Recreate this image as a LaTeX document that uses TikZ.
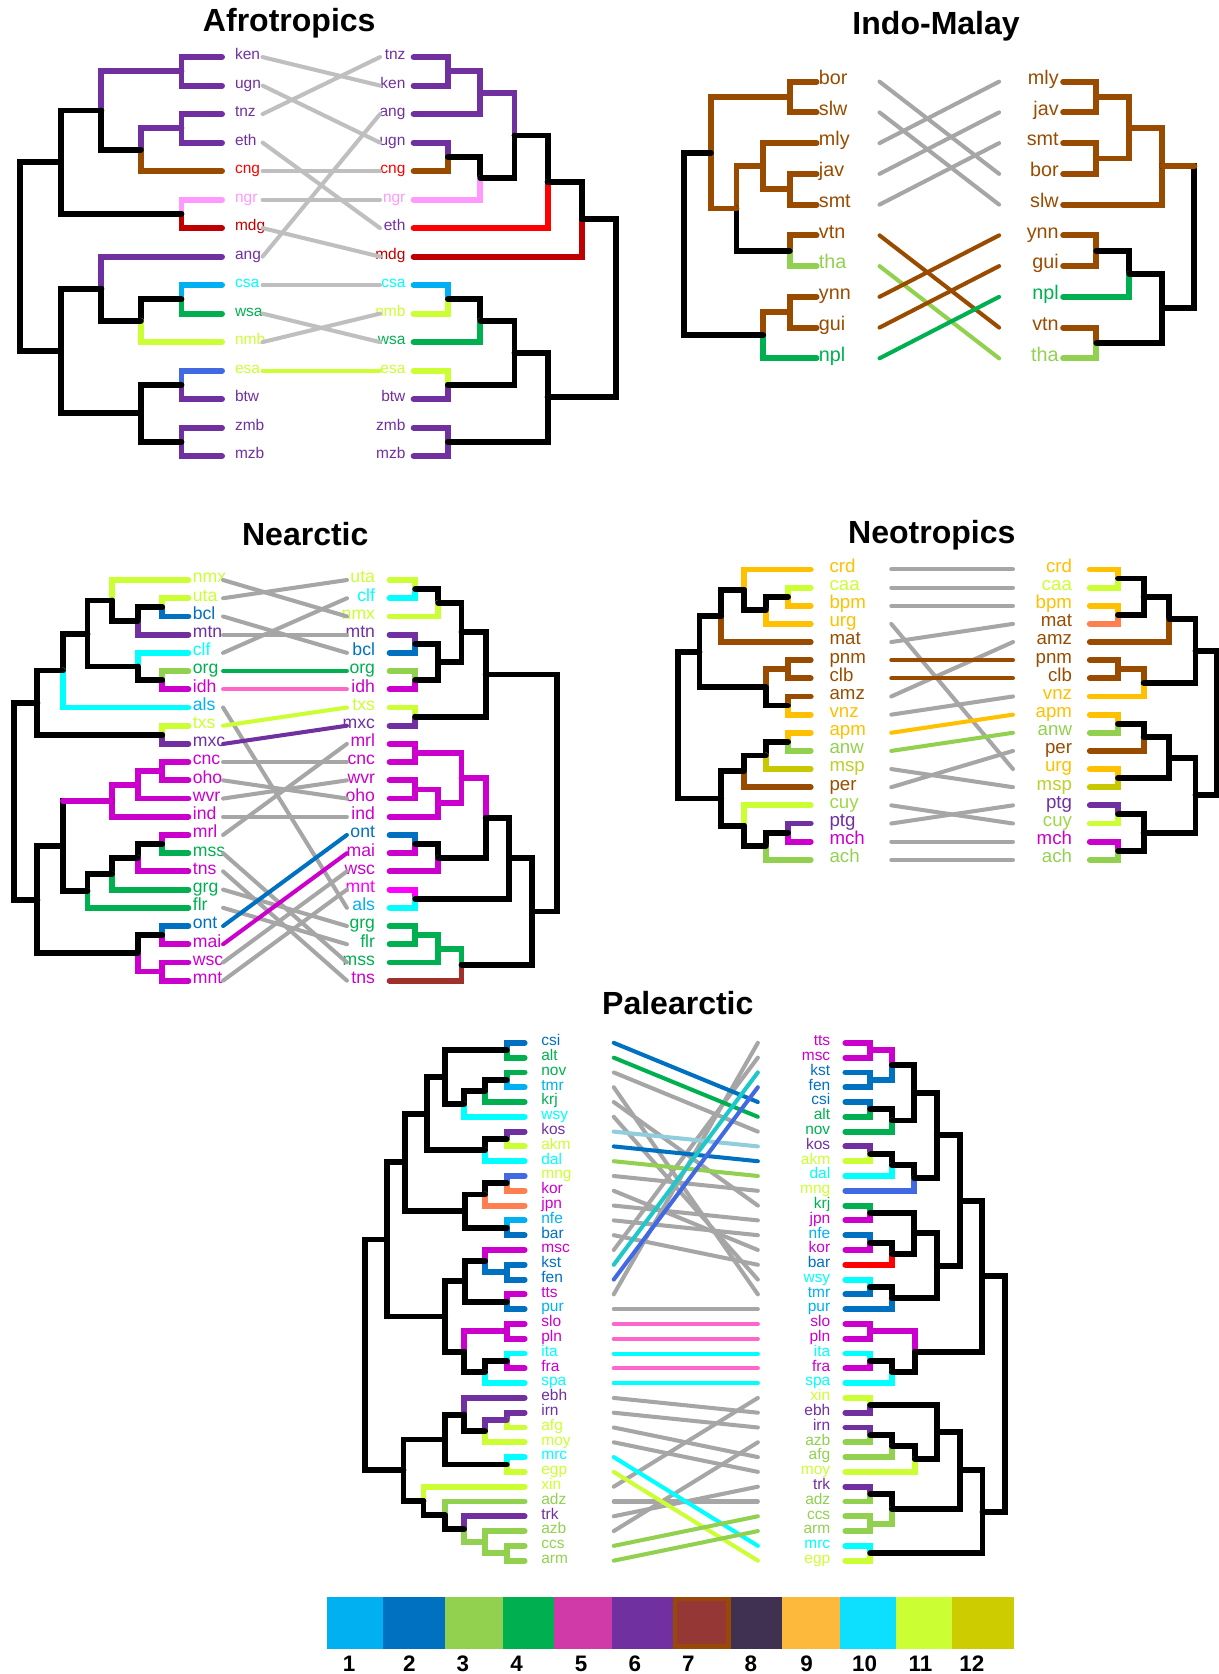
\documentclass[tikz,border=0pt]{standalone}
\usepackage{fontspec}
\setmainfont{Liberation Sans}

\definecolor{Cpurple}{HTML}{7030A0}
\definecolor{Cblue}{HTML}{0070C0}
\definecolor{Clblue}{HTML}{00B0F0}
\definecolor{Cgreen}{HTML}{00B050}
\definecolor{Clgreen}{HTML}{92D050}
\definecolor{Cyg}{HTML}{CCFF33}
\definecolor{Ccyan}{HTML}{00FFFF}
\definecolor{Cmag}{HTML}{CC00CC}
\definecolor{Cbmag}{HTML}{FF00FF}
\definecolor{Cbrown}{HTML}{994C00}
\definecolor{Cpink}{HTML}{FF99FF}
\definecolor{Cred}{HTML}{FF0000}
\definecolor{Cdred}{HTML}{C00000}
\definecolor{Croyal}{HTML}{4169E1}
\definecolor{Ccoral}{HTML}{FF7F50}
\definecolor{Corange}{HTML}{FFC000}
\definecolor{Colive}{HTML}{C8C800}
\definecolor{Cdkred}{HTML}{A0302A}
\definecolor{Cgray}{HTML}{A6A6A6}
\definecolor{Clgray}{HTML}{BFBFBF}
\definecolor{Cpinkl}{HTML}{FF66CC}
\definecolor{Csteel}{HTML}{92CDDC}
\definecolor{Cteal}{HTML}{1FC8C8}
\definecolor{Cmsp}{HTML}{BCCF2A}
\definecolor{Ccuy}{HTML}{9ED54A}
\definecolor{Cb1}{HTML}{00B0F0}
\definecolor{Cb2}{HTML}{0070C0}
\definecolor{Cb3}{HTML}{92D050}
\definecolor{Cb4}{HTML}{00B050}
\definecolor{Cb5}{HTML}{D03AA8}
\definecolor{Cb6}{HTML}{7030A0}
\definecolor{Cb7}{HTML}{953735}
\definecolor{Cb7b}{HTML}{984807}
\definecolor{Cb8}{HTML}{403152}
\definecolor{Cb9}{HTML}{FDB93B}
\definecolor{Cb10}{HTML}{0DDFFF}
\definecolor{Cb11}{HTML}{CCFF33}
\definecolor{Cb12}{HTML}{CCCC00}

\tikzset{
  branch/.style={line width=5.5pt, line cap=round},
  tangle/.style={line width=3.8pt, line cap=round},
  leaf/.style={inner sep=0pt, font=\fontsize{#1}{#1}\selectfont},
  title/.style={inner sep=0pt, font=\fontsize{30}{30}\selectfont\bfseries},
  num/.style={inner sep=0pt, font=\fontsize{21}{21}\selectfont\bfseries}
}

\begin{document}
\begin{tikzpicture}[x=1pt, y=-1pt]
\useasboundingbox (0,0) rectangle (1141.5,1568.3);

% titles
\node[title] (t-afro) at (271,22) {Afrotropics};
\node[title] (t-indo) at (877,25) {Indo-Malay};
\node[title] (t-nea) at (286,500) {Nearctic};
\node[title] (t-neo) at (873,501) {Neotropics};
\node[title] (t-pal) at (635,940) {Palearctic};

% ---------------- Afrotropics
\begin{scope}[yshift=-53.5pt, y=-26.7pt]
\foreach \n/\c [count=\i from 0] in {ken/Cpurple, ugn/Cpurple, tnz/Cpurple, eth/Cpurple, cng/Cred, ngr/Cpink, mdg/Cdred, ang/Cpurple, csa/Ccyan, wsa/Cgreen, nmb/Cyg, esa/Cyg, btw/Cpurple, zmb/Cpurple, mzb/Cpurple} {
  \coordinate (AL-\n) at (208,\i);
  \coordinate (AL-\n-e) at (246,\i);
  \node[leaf=14.5, text=\c, anchor=mid west] (AL-\n-t) at (220,\i) {\n};
}
\foreach \n/\c [count=\i from 0] in {tnz/Cpurple, ken/Cpurple, ang/Cpurple, ugn/Cpurple, cng/Cred, ngr/Cpink, eth/Cpurple, mdg/Cdred, csa/Ccyan, nmb/Cyg, wsa/Cgreen, esa/Cyg, btw/Cpurple, zmb/Cpurple, mzb/Cpurple} {
  \coordinate (AR-\n) at (387.5,\i);
  \coordinate (AR-\n-e) at (356,\i);
  \node[leaf=14.5, text=\c, anchor=mid east] (AR-\n-t) at (380,\i) {\n};
}
\foreach \n/\x/\y in {a1/170/0.5, a2/170/2.5, a3/132/3.25, a4/95/1.875, a5/170/5.5, a6/57/3.69, a7/170/8.5, a8/132/9.25, a9/95/8.125, a10/170/11.5, a11/170/13.5, a12/132/12.5, a13/57/10.31, a0/18.6/7.0,
  b1/419.6/0.5, b2/450/1.25, b3/419.6/3.5, b4/450/4.25, b5/482/2.75, b6/513/4.375, b7/545/5.69, b8/419.6/8.5, b9/450/9.25, b10/419.6/11.5, b11/482/10.375, b12/419.6/13.5, b13/513/11.94, b0/577/8.81}
  \coordinate (A\n) at (\x,\y);
\foreach \p/\ch/\c in {Aa1/AL-ken/Cpurple, Aa1/AL-ugn/Cpurple, Aa2/AL-tnz/Cpurple, Aa2/AL-eth/Cpurple, Aa3/Aa2/Cpurple, Aa3/AL-cng/Cbrown, Aa4/Aa1/Cpurple, Aa4/Aa3/black, Aa5/AL-ngr/Cpink, Aa5/AL-mdg/Cdred, Aa6/Aa4/black, Aa6/Aa5/black, Aa7/AL-csa/Clblue, Aa7/AL-wsa/Cgreen, Aa8/Aa7/black, Aa8/AL-nmb/Cyg, Aa9/AL-ang/Cpurple, Aa9/Aa8/black, Aa10/AL-esa/Croyal, Aa10/AL-btw/Cpurple, Aa11/AL-zmb/Cpurple, Aa11/AL-mzb/Cpurple, Aa12/Aa10/black, Aa12/Aa11/black, Aa13/Aa9/black, Aa13/Aa12/black, Aa0/Aa6/black, Aa0/Aa13/black,
  Ab1/AR-tnz/Cpurple, Ab1/AR-ken/Cpurple, Ab2/Ab1/Cpurple, Ab2/AR-ang/Cpurple, Ab3/AR-ugn/Cpurple, Ab3/AR-cng/Cbrown, Ab4/Ab3/black, Ab4/AR-ngr/Cpink, Ab5/Ab2/Cpurple, Ab5/Ab4/black, Ab6/Ab5/black, Ab6/AR-eth/Cred, Ab7/Ab6/black, Ab7/AR-mdg/Cdred, Ab8/AR-csa/Clblue, Ab8/AR-nmb/Cyg, Ab9/Ab8/black, Ab9/AR-wsa/Cgreen, Ab10/AR-esa/Cyg, Ab10/AR-btw/Cpurple, Ab11/Ab9/black, Ab11/Ab10/black, Ab12/AR-zmb/Cpurple, Ab12/AR-mzb/Cpurple, Ab13/Ab11/black, Ab13/Ab12/black, Ab0/Ab7/black, Ab0/Ab13/black}
  \draw[branch, color=\c] (\p) |- (\ch);
\foreach \n/\c in {ken/Clgray, ugn/Clgray, tnz/Clgray, eth/Clgray, cng/Clgray, ngr/Clgray, mdg/Clgray, ang/Clgray, csa/Clgray, wsa/Clgray, nmb/Clgray, esa/Cyg}
  \draw[tangle, color=\c] (AL-\n-e) -- (AR-\n-e);
\end{scope}

% ---------------- Indo-Malay
\begin{scope}[yshift=-76.5pt, y=-28.8pt]
\foreach \n/\c [count=\i from 0] in {bor/Cbrown, slw/Cbrown, mly/Cbrown, jav/Cbrown, smt/Cbrown, vtn/Cbrown, tha/Clgreen, ynn/Cbrown, gui/Cbrown, npl/Cgreen} {
  \coordinate (IL-\n) at (765,\i);
  \coordinate (IL-\n-e) at (824,\i);
  \node[leaf=18.5, text=\c, anchor=mid west] (IL-\n-t) at (767,\i) {\n};
}
\foreach \n/\c [count=\i from 0] in {mly/Cbrown, jav/Cbrown, smt/Cbrown, bor/Cbrown, slw/Cbrown, ynn/Cbrown, gui/Cbrown, npl/Cgreen, vtn/Cbrown, tha/Clgreen} {
  \coordinate (IR-\n) at (996,\i);
  \coordinate (IR-\n-e) at (936,\i);
  \node[leaf=18.5, text=\c, anchor=mid east] (IR-\n-t) at (992,\i) {\n};
}
\foreach \n/\x/\y in {c1/740/0.5, c2/740/3.5, c3/715/2.75, c4/740/5.5, c5/690/4.125, c6/666/2.31, c7/740/7.5, c8/715/8.25, c0/641/5.28,
  d1/1027/0.5, d2/1027/2.5, d3/1058/1.5, d4/1088.5/2.75, d5/1027/5.5, d6/1058/6.25, d7/1027/8.5, d8/1088.5/7.375, d0/1119/5.06}
  \coordinate (I\n) at (\x,\y);
\foreach \p/\ch/\c in {Ic1/IL-bor/Cbrown, Ic1/IL-slw/Cbrown, Ic2/IL-jav/Cbrown, Ic2/IL-smt/Cbrown, Ic3/IL-mly/Cbrown, Ic3/Ic2/Cbrown, Ic4/IL-vtn/Cbrown, Ic4/IL-tha/Clgreen, Ic5/Ic3/Cbrown, Ic5/Ic4/black, Ic6/Ic1/Cbrown, Ic6/Ic5/Cbrown, Ic7/IL-ynn/Cbrown, Ic7/IL-gui/Cbrown, Ic8/Ic7/Cbrown, Ic8/IL-npl/Cgreen, Ic0/Ic6/black, Ic0/Ic8/black,
  Id1/IR-mly/Cbrown, Id1/IR-jav/Cbrown, Id2/IR-smt/Cbrown, Id2/IR-bor/Cbrown, Id3/Id1/Cbrown, Id3/Id2/Cbrown, Id4/Id3/Cbrown, Id4/IR-slw/Cbrown, Id5/IR-ynn/Cbrown, Id5/IR-gui/Cbrown, Id6/Id5/black, Id6/IR-npl/Cgreen, Id7/IR-vtn/Cbrown, Id7/IR-tha/Clgreen, Id8/Id6/black, Id8/Id7/black, Id0/Id4/black, Id0/Id8/black}
  \draw[branch, color=\c] (\p) |- (\ch);
\draw[branch, Cbrown] (Id0 |- Id4) -- (Id4);
\foreach \n/\c in {bor/Cgray, slw/Cgray, mly/Cgray, jav/Cgray, smt/Cgray, vtn/Cbrown, tha/Clgreen, ynn/Cbrown, gui/Cbrown, npl/Cgreen}
  \draw[tangle, color=\c] (IL-\n-e) -- (IR-\n-e);
\end{scope}

% ---------------- Nearctic
\begin{scope}[yshift=-543.4pt, y=-17.06pt]
\foreach \n/\c [count=\i from 0] in {nmx/Cyg, uta/Cyg, bcl/Cblue, mtn/Cpurple, clf/Ccyan, org/Cgreen, idh/Cmag, als/Clblue, txs/Cyg, mxc/Cpurple, cnc/Cmag, oho/Cmag, wvr/Cmag, ind/Cmag, mrl/Cmag, mss/Cgreen, tns/Cmag, grg/Cgreen, flr/Cgreen, ont/Cblue, mai/Cmag, wsc/Cmag, mnt/Cmag} {
  \coordinate (NL-\n) at (176.5,\i);
  \coordinate (NL-\n-e) at (209,\i);
  \node[leaf=16.5, text=\c, anchor=mid west] (NL-\n-t) at (180.5,\i) {\n};
}
\foreach \n/\c [count=\i from 0] in {uta/Cyg, clf/Ccyan, nmx/Cyg, mtn/Cpurple, bcl/Cblue, org/Cgreen, idh/Cmag, txs/Cyg, mxc/Cpurple, mrl/Cmag, cnc/Cmag, wvr/Cmag, oho/Cmag, ind/Cmag, ont/Cblue, mai/Cmag, wsc/Cmag, mnt/Cbmag, als/Clblue, grg/Cgreen, flr/Cgreen, mss/Cgreen, tns/Cmag} {
  \coordinate (NR-\n) at (365,\i);
  \coordinate (NR-\n-e) at (325,\i);
  \node[leaf=16.5, text=\c, anchor=mid east] (NR-\n-t) at (351.5,\i) {\n};
}
\foreach \n/\x/\y in {a1/152/1.5, a2/129/2.25, a3/105/1.125, a4/152/5.5, a5/129/4.75, a6/82/2.94, a7/59/4.97, a8/152/8.5, a9/35/6.73, b1/152/10.5, b2/129/11.25, b3/105/12.125, b4/152/14.5, b5/129/15.25, b6/105/16.125, b7/82/17.06, b8/59/14.6, b9/152/19.5, b10/152/21.5, b11/129/20.5, b12/35/17.55, a0/13/12.14,
  r1/389/0.5, r2/410.5/1.25, r3/389/3.5, r4/389/5.5, r5/410.5/4.5, r6/432.4/2.875, r7/389/7.5, r8/455/5.19, s1/389/9.5, s2/389/11.5, s3/410.5/12.25, s4/432.4/10.875, s5/389/14.5, s6/410.5/15.25, s7/455/13.06, s8/389/17.5, s9/477/15.28, t1/389/19.5, t2/410.5/20.25, t3/432.4/21.125, t4/498.6/18.2, r0/522/11.7}
  \coordinate (N\n) at (\x,\y);
\foreach \p/\ch/\c in {Na1/NL-uta/Cyg, Na1/NL-bcl/Cblue, Na2/Na1/black, Na2/NL-mtn/Cpurple, Na3/NL-nmx/Cyg, Na3/Na2/black, Na4/NL-org/Clgreen, Na4/NL-idh/Cmag, Na5/NL-clf/Ccyan, Na5/Na4/black, Na6/Na3/black, Na6/Na5/black, Na7/Na6/black, Na7/NL-als/Ccyan, Na8/NL-txs/Cyg, Na8/NL-mxc/Cpurple, Na9/Na7/black, Na9/Na8/black, Nb1/NL-cnc/Cmag, Nb1/NL-oho/Cmag, Nb2/Nb1/Cmag, Nb2/NL-wvr/Cmag, Nb3/Nb2/Cmag, Nb3/NL-ind/Cmag, Nb4/NL-mrl/Cmag, Nb4/NL-mss/Cgreen, Nb5/Nb4/black, Nb5/NL-tns/Cmag, Nb6/Nb5/black, Nb6/NL-grg/Cgreen, Nb7/Nb6/black, Nb7/NL-flr/Cgreen, Nb8/Nb3/black, Nb8/Nb7/black, Nb9/NL-ont/Cblue, Nb9/NL-mai/Cmag, Nb10/NL-wsc/Cmag, Nb10/NL-mnt/Cmag, Nb11/Nb9/black, Nb11/Nb10/Cmag, Nb12/Nb8/black, Nb12/Nb11/black, Na0/Na9/black, Na0/Nb12/black,
  Nr1/NR-uta/Cyg, Nr1/NR-clf/Ccyan, Nr2/Nr1/black, Nr2/NR-nmx/Cyg, Nr3/NR-mtn/Cpurple, Nr3/NR-bcl/Cblue, Nr4/NR-org/Clgreen, Nr4/NR-idh/Cmag, Nr5/Nr3/black, Nr5/Nr4/black, Nr6/Nr2/black, Nr6/Nr5/black, Nr7/NR-txs/Cyg, Nr7/NR-mxc/Cpurple, Nr8/Nr6/black, Nr8/Nr7/black, Ns1/NR-mrl/Cmag, Ns1/NR-cnc/Cmag, Ns2/NR-wvr/Cmag, Ns2/NR-oho/Cmag, Ns3/Ns2/Cmag, Ns3/NR-ind/Cmag, Ns4/Ns1/Cmag, Ns4/Ns3/Cmag, Ns5/NR-ont/Cblue, Ns5/NR-mai/Cmag, Ns6/Ns5/black, Ns6/NR-wsc/Cmag, Ns7/Ns4/Cmag, Ns7/Ns6/black, Ns8/NR-mnt/Cbmag, Ns8/NR-als/Ccyan, Ns9/Ns7/black, Ns9/Ns8/black, Nt1/NR-grg/Cgreen, Nt1/NR-flr/Cgreen, Nt2/Nt1/Cgreen, Nt2/NR-mss/Cgreen, Nt3/Nt2/Cgreen, Nt3/NR-tns/Cdkred, Nt4/Ns9/black, Nt4/Nt3/black, Nr0/Nr8/black, Nr0/Nt4/black}
  \draw[branch, color=\c] (\p) |- (\ch);
\draw[branch, Cmag] (Nb8 |- Nb3) -- (Nb3);
\foreach \n/\c in {nmx/Cgray, uta/Cgray, bcl/Cgray, mtn/Cgray, clf/Cgray, als/Cgray, cnc/Cgray, oho/Cgray, wvr/Cgray, ind/Cgray, mrl/Cgray, mss/Cgray, tns/Cgray, grg/Cgray, flr/Cgray, wsc/Cgray, mnt/Cgray, org/Cgreen, idh/Cpinkl, txs/Cyg, mxc/Cpurple, ont/Cblue, mai/Cmag}
  \draw[tangle, color=\c] (NL-\n-e) -- (NR-\n-e);
\end{scope}

% ---------------- Neotropics
\begin{scope}[yshift=-533.5pt, y=-17pt]
\foreach \n/\c [count=\i from 0] in {crd/Corange, caa/Cyg, bpm/Corange, urg/Corange, mat/Cbrown, pnm/Cbrown, clb/Cbrown, amz/Cbrown, vnz/Corange, apm/Corange, anw/Clgreen, msp/Cmsp, per/Cbrown, cuy/Ccuy, ptg/Cpurple, mch/Cmag, ach/Clgreen} {
  \coordinate (TL-\n) at (759.5,\i);
  \coordinate (TL-\n-e) at (835,\i);
  \node[leaf=17.5, text=\c, anchor=mid west] (TL-\n-t) at (777,\i) {\n};
}
\foreach \n/\c [count=\i from 0] in {crd/Corange, caa/Cyg, bpm/Corange, mat/Cbrown, amz/Cbrown, pnm/Cbrown, clb/Cbrown, vnz/Corange, apm/Corange, anw/Clgreen, per/Cbrown, urg/Corange, msp/Cmsp, ptg/Cpurple, cuy/Ccuy, mch/Cmag, ach/Clgreen} {
  \coordinate (TR-\n) at (1021,\i);
  \coordinate (TR-\n-e) at (949,\i);
  \node[leaf=17.5, text=\c, anchor=mid east] (TR-\n-t) at (1004.5,\i) {\n};
}
\foreach \n/\x/\y in {e1/738.3/1.5, e2/717.5/2.25, e3/697/1.125, e4/675.7/2.56, e5/738.3/5.5, e6/738.3/7.5, e7/717.5/6.5, e8/655.3/4.53, f1/738.3/9.5, f2/717.5/10.25, f3/697/11.125, f4/738.3/14.5, f5/717.5/15.25, f6/697/14.125, f7/675.7/12.625, e0/635/8.58,
  g1/1047.4/0.5, g2/1047.4/2.5, g3/1071.4/1.5, g4/1095.5/2.75, g5/1047.4/5.5, g6/1071.4/6.25, g7/1120/4.5, h1/1047.4/8.5, h2/1071.4/9.25, h3/1047.4/11.5, h4/1095.5/10.375, h5/1047.4/13.5, h6/1047.4/15.5, h7/1071.4/14.5, h8/1120/12.44, g0/1140/8.47}
  \coordinate (T\n) at (\x,\y);
\foreach \p/\ch/\c in {Te1/TL-caa/Cyg, Te1/TL-bpm/Corange, Te2/Te1/black, Te2/TL-urg/Corange, Te3/TL-crd/Corange, Te3/Te2/black, Te4/Te3/black, Te4/TL-mat/Cbrown, Te5/TL-pnm/Cbrown, Te5/TL-clb/Cbrown, Te6/TL-amz/Cbrown, Te6/TL-vnz/Corange, Te7/Te5/Cbrown, Te7/Te6/black, Te8/Te4/black, Te8/Te7/black, Tf1/TL-apm/Corange, Tf1/TL-anw/Clgreen, Tf2/Tf1/black, Tf2/TL-msp/Colive, Tf3/Tf2/black, Tf3/TL-per/Cbrown, Tf4/TL-ptg/Cpurple, Tf4/TL-mch/Cmag, Tf5/Tf4/black, Tf5/TL-ach/Clgreen, Tf6/TL-cuy/Cyg, Tf6/Tf5/black, Tf7/Tf3/black, Tf7/Tf6/black, Te0/Te8/black, Te0/Tf7/black,
  Tg1/TR-crd/Corange, Tg1/TR-caa/Cyg, Tg2/TR-bpm/Corange, Tg2/TR-mat/Ccoral, Tg3/Tg1/black, Tg3/Tg2/black, Tg4/Tg3/black, Tg4/TR-amz/Cbrown, Tg5/TR-pnm/Cbrown, Tg5/TR-clb/Cbrown, Tg6/Tg5/Cbrown, Tg6/TR-vnz/Corange, Tg7/Tg4/black, Tg7/Tg6/black, Th1/TR-apm/Corange, Th1/TR-anw/Clgreen, Th2/Th1/black, Th2/TR-per/Cbrown, Th3/TR-urg/Corange, Th3/TR-msp/Colive, Th4/Th2/black, Th4/Th3/black, Th5/TR-ptg/Cpurple, Th5/TR-cuy/Cyg, Th6/TR-mch/Cmag, Th6/TR-ach/Clgreen, Th7/Th5/black, Th7/Th6/black, Th8/Th4/black, Th8/Th7/black, Tg0/Tg7/black, Tg0/Th8/black}
  \draw[branch, color=\c] (\p) |- (\ch);
\foreach \n/\c in {crd/Cgray, caa/Cgray, bpm/Cgray, urg/Cgray, mat/Cgray, amz/Cgray, vnz/Cgray, msp/Cgray, per/Cgray, cuy/Cgray, ptg/Cgray, mch/Cgray, ach/Cgray, pnm/Cbrown, clb/Cbrown, apm/Corange, anw/Clgreen}
  \draw[tangle, color=\c] (TL-\n-e) -- (TR-\n-e);
\end{scope}

% ---------------- Palearctic
\begin{scope}[yshift=-977pt, y=-13.86pt]
\foreach \n/\c [count=\i from 0] in {csi/Cblue, alt/Cgreen, nov/Cgreen, tmr/Clblue, krj/Cgreen, wsy/Ccyan, kos/Cpurple, akm/Cyg, dal/Ccyan, mng/Cyg, kor/Cmag, jpn/Cmag, nfe/Clblue, bar/Cblue, msc/Cmag, kst/Cblue, fen/Cblue, tts/Cmag, pur/Clblue, slo/Cmag, pln/Cmag, ita/Ccyan, fra/Cmag, spa/Ccyan, ebh/Cpurple, irn/Cpurple, afg/Cyg, moy/Cyg, mrc/Ccyan, egp/Cyg, xin/Cyg, adz/Clgreen, trk/Cpurple, azb/Clgreen, ccs/Clgreen, arm/Clgreen} {
  \coordinate (PL-\n) at (491.5,\i);
  \coordinate (PL-\n-e) at (575,\i);
  \node[leaf=14.5, text=\c, anchor=mid west] (PL-\n-t) at (507,\i) {\n};
}
\foreach \n/\c [count=\i from 0] in {tts/Cmag, msc/Cmag, kst/Cblue, fen/Cblue, csi/Cblue, alt/Cgreen, nov/Cgreen, kos/Cpurple, akm/Cyg, dal/Ccyan, mng/Cyg, krj/Cgreen, jpn/Cmag, nfe/Clblue, kor/Cmag, bar/Cblue, wsy/Ccyan, tmr/Clblue, pur/Clblue, slo/Cmag, pln/Cmag, ita/Ccyan, fra/Cmag, spa/Ccyan, xin/Cyg, ebh/Cpurple, irn/Cpurple, azb/Clgreen, afg/Clgreen, moy/Cyg, trk/Cpurple, adz/Clgreen, ccs/Clgreen, arm/Clgreen, mrc/Ccyan, egp/Cyg} {
  \coordinate (PR-\n) at (792,\i);
  \coordinate (PR-\n-e) at (710,\i);
  \node[leaf=14.5, text=\c, anchor=mid east] (PR-\n-t) at (778,\i) {\n};
}
\foreach \n/\x/\y in {p1/474.8/0.5, p2/474.8/2.5, p3/454.5/3.25, p4/434.8/4.125, p5/417/2.31, p6/474.8/6.5, p7/454.5/7.25, p8/399.8/4.78, p9/474.8/9.5, p10/454.5/10.25, p11/474.8/12.5, p12/435.7/11.375, p13/379.5/8.08, q1/474.8/15.5, q2/454.5/14.75, q3/474.8/17.5, q4/435.7/16.125, q5/474.8/19.5, q6/474.8/21.5, q7/454.5/22.25, q8/434.8/20.875, q9/417/18.5, q10/362.3/13.29, u1/474.8/25.5, u2/454.5/26.25, u3/434.8/25.125, u4/474.8/28.5, u5/417/26.81, v1/474.8/34.5, v2/454.5/33.75, v3/434.8/32.875, v4/417/31.94, v5/396.7/30.97, v6/378/28.89, p0/342/21.09,
  w1/815.2/0.5, w2/815.2/2.5, w3/835.5/1.5, w4/815.2/4.5, w5/835.5/5.25, w6/856.4/3.375, w7/815.2/7.5, w8/835.5/8.25, w9/856.4/9.125, w10/877.6/6.25, x1/815.2/11.5, x2/815.2/13.5, x3/835.5/14.25, x4/856.4/12.875, x5/815.2/16.5, x6/835.5/17.25, x7/877.6/15.06, x8/899.5/10.66, y1/815.2/19.5, y2/815.2/21.5, y3/835.5/22.25, y4/857.5/20.875, y5/920/15.77, z1/815.2/24.5, z2/815.2/26.5, z3/835.5/27.25, z4/857/28.125, z5/877.6/26.31, z6/815.2/30.5, z7/815.2/32.5, z8/835.5/31.5, z9/899.5/28.9, z10/815.2/34.5, z11/920.5/31.7, y0/941.6/23.74}
  \coordinate (P\n) at (\x,\y);
\foreach \p/\ch/\c in {Pp1/PL-csi/Cblue, Pp1/PL-alt/Cgreen, Pp2/PL-nov/Cgreen, Pp2/PL-tmr/Clblue, Pp3/Pp2/black, Pp3/PL-krj/Cgreen, Pp4/Pp3/black, Pp4/PL-wsy/Ccyan, Pp5/Pp1/black, Pp5/Pp4/black, Pp6/PL-kos/Cpurple, Pp6/PL-akm/Cyg, Pp7/Pp6/black, Pp7/PL-dal/Ccyan, Pp8/Pp5/black, Pp8/Pp7/black, Pp9/PL-mng/Croyal, Pp9/PL-kor/Ccoral, Pp10/Pp9/black, Pp10/PL-jpn/Ccoral, Pp11/PL-nfe/Clblue, Pp11/PL-bar/Cblue, Pp12/Pp10/black, Pp12/Pp11/black, Pp13/Pp8/black, Pp13/Pp12/black, Pq1/PL-kst/Cblue, Pq1/PL-fen/Cblue, Pq2/PL-msc/Cmag, Pq2/Pq1/Cblue, Pq3/PL-tts/Cmag, Pq3/PL-pur/Cblue, Pq4/Pq2/black, Pq4/Pq3/black, Pq5/PL-slo/Cmag, Pq5/PL-pln/Cmag, Pq6/PL-ita/Ccyan, Pq6/PL-fra/Cmag, Pq7/Pq6/black, Pq7/PL-spa/Ccyan, Pq8/Pq5/Cmag, Pq8/Pq7/black, Pq9/Pq4/black, Pq9/Pq8/black, Pq10/Pp13/black, Pq10/Pq9/black, Pu1/PL-irn/Cpurple, Pu1/PL-afg/Cyg, Pu2/Pu1/Cpurple, Pu2/PL-moy/Cyg, Pu3/PL-ebh/Cpurple, Pu3/Pu2/black, Pu4/PL-mrc/Ccyan, Pu4/PL-egp/Cyg, Pu5/Pu3/black, Pu5/Pu4/black, Pv1/PL-ccs/Clgreen, Pv1/PL-arm/Clgreen, Pv2/PL-azb/Clgreen, Pv2/Pv1/Clgreen, Pv3/PL-trk/Cpurple, Pv3/Pv2/Clgreen, Pv4/PL-adz/Clgreen, Pv4/Pv3/black, Pv5/PL-xin/Cyg, Pv5/Pv4/black, Pv6/Pu5/black, Pv6/Pv5/black, Pp0/Pq10/black, Pp0/Pv6/black,
  Pw1/PR-tts/Cmag, Pw1/PR-msc/Cmag, Pw2/PR-kst/Cblue, Pw2/PR-fen/Cblue, Pw3/Pw1/Cmag, Pw3/Pw2/Cblue, Pw4/PR-csi/Cblue, Pw4/PR-alt/Cgreen, Pw5/Pw4/black, Pw5/PR-nov/Cgreen, Pw6/Pw3/black, Pw6/Pw5/black, Pw7/PR-kos/Cpurple, Pw7/PR-akm/Cyg, Pw8/Pw7/black, Pw8/PR-dal/Ccyan, Pw9/Pw8/black, Pw9/PR-mng/Croyal, Pw10/Pw6/black, Pw10/Pw9/black, Px1/PR-krj/Cgreen, Px1/PR-jpn/Cmag, Px2/PR-nfe/Cblue, Px2/PR-kor/Cmag, Px3/Px2/black, Px3/PR-bar/Cred, Px4/Px1/black, Px4/Px3/black, Px5/PR-wsy/Ccyan, Px5/PR-tmr/Cblue, Px6/Px5/black, Px6/PR-pur/Cblue, Px7/Px4/black, Px7/Px6/black, Px8/Pw10/black, Px8/Px7/black, Py1/PR-slo/Cmag, Py1/PR-pln/Cmag, Py2/PR-ita/Ccyan, Py2/PR-fra/Cmag, Py3/Py2/black, Py3/PR-spa/Ccyan, Py4/Py1/Cmag, Py4/Py3/black, Py5/Px8/black, Py5/Py4/black, Pz1/PR-xin/Cyg, Pz1/PR-ebh/Cpurple, Pz2/PR-irn/Cpurple, Pz2/PR-azb/Clgreen, Pz3/Pz2/black, Pz3/PR-afg/Clgreen, Pz4/Pz3/black, Pz4/PR-moy/Cyg, Pz5/Pz1/black, Pz5/Pz4/black, Pz6/PR-trk/Cpurple, Pz6/PR-adz/Clgreen, Pz7/PR-ccs/Clgreen, Pz7/PR-arm/Clgreen, Pz8/Pz6/black, Pz8/Pz7/Clgreen, Pz9/Pz5/black, Pz9/Pz8/black, Pz10/PR-mrc/Ccyan, Pz10/PR-egp/Cyg, Pz11/Pz9/black, Pz11/Pz10/black, Py0/Py5/black, Py0/Pz11/black}
  \draw[branch, color=\c] (\p) |- (\ch);
\foreach \n/\c in {nov/Cgray, tmr/Cgray, krj/Cgray, wsy/Cgray, mng/Cgray, kor/Cgray, jpn/Cgray, nfe/Cgray, bar/Cgray, msc/Cgray, tts/Cgray, pur/Cgray, ebh/Cgray, irn/Cgray, afg/Cgray, moy/Cgray, xin/Cgray, adz/Cgray, trk/Cgray, azb/Cgray,
  csi/Cblue, alt/Cgreen, kos/Csteel, akm/Cblue, dal/Clgreen, kst/Cteal, fen/Croyal, slo/Cpinkl, pln/Cpinkl, ita/Ccyan, fra/Cpinkl, spa/Ccyan, mrc/Ccyan, egp/Cyg, ccs/Clgreen, arm/Clgreen}
  \draw[tangle, color=\c] (PL-\n-e) -- (PR-\n-e);
\end{scope}

% ---------------- colour key
\foreach \c/\xa/\xb [count=\i] in {Cb1/306/358.4, Cb2/358.4/417, Cb3/417/471.3, Cb4/471.3/519.4, Cb5/519.4/573.8, Cb6/573.8/630.3, Cb7b/630.3/684.6, Cb8/684.6/732.7, Cb9/732.7/787.1, Cb10/787.1/839.4, Cb11/839.4/891.7, Cb12/891.7/950.3}
  \fill[color=\c] (\xa,1496) rectangle (\xb,1544.4);
\fill[Cb7] (634.5,1500) rectangle (680.4,1540.4);
\foreach \x [count=\i] in {327,383.5,433.7,483.9,544.5,594.7,645,703.5,755.7,810.1,862.4,910.5}
  \node[num] (k\i) at (\x,1559) {\i};
\end{tikzpicture}
\end{document}
